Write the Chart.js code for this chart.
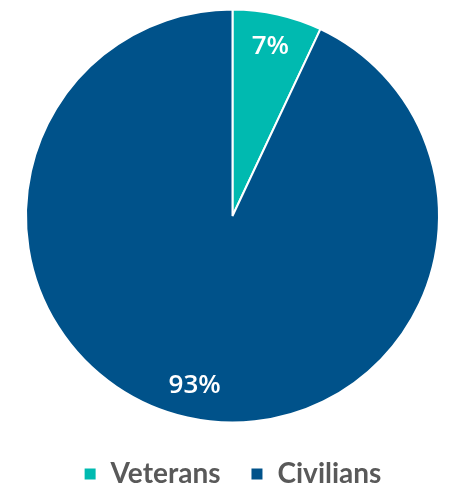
<!DOCTYPE html>
<html lang="en">
<head>
    <meta charset="UTF-8">
    <title>Veterans vs Civilians</title>
    <script src="https://cdn.jsdelivr.net/npm/chart.js@4.4.0/dist/chart.umd.min.js"></script>
    <style>
        html, body { margin: 0; padding: 0; background: #ffffff; }
        #wrap { width: 449px; height: 489px; position: relative; }
    </style>
</head>
<body>
    <div id="wrap"><canvas id="myChart"></canvas></div>

    <script>
        // Chart data
        const categories = ['Veterans', 'Civilians'];
        const shares = [7, 93];
        const sliceColors = ['#00BAB0', '#00528A'];

        // Draws the percentage inside each slice
        const sliceLabels = {
            id: 'sliceLabels',
            afterDatasetsDraw(chart) {
                const ctx = chart.ctx;
                const meta = chart.getDatasetMeta(0);
                ctx.save();
                ctx.fillStyle = '#ffffff';
                ctx.font = '600 26px "Open Sans", sans-serif';
                ctx.textAlign = 'center';
                ctx.textBaseline = 'middle';
                meta.data.forEach((arc, i) => {
                    const mid = (arc.startAngle + arc.endAngle) / 2;
                    const r = arc.outerRadius * 0.84;
                    ctx.fillText(shares[i] + '%', arc.x + Math.cos(mid) * r, arc.y + Math.sin(mid) * r);
                });
                ctx.restore();
            }
        };

        const ctx = document.getElementById('myChart').getContext('2d');
        new Chart(ctx, {
            type: 'pie',
            data: {
                labels: categories,
                datasets: [{
                    data: shares,
                    backgroundColor: sliceColors,
                    borderColor: '#ffffff',
                    borderWidth: 2
                }]
            },
            options: {
                responsive: true,
                maintainAspectRatio: false,
                animation: false,
                layout: { padding: { top: 2, left: 25, right: 9, bottom: -9 } },
                plugins: {
                    tooltip: { enabled: false },
                    legend: {
                        position: 'bottom',
                        labels: {
                            boxWidth: 13,
                            boxHeight: 13,
                            padding: 30,
                            color: '#595959',
                            font: { family: 'Lato', size: 28, weight: 'bold' }
                        }
                    }
                }
            },
            plugins: [sliceLabels]
        });
    </script>
</body>
</html>
